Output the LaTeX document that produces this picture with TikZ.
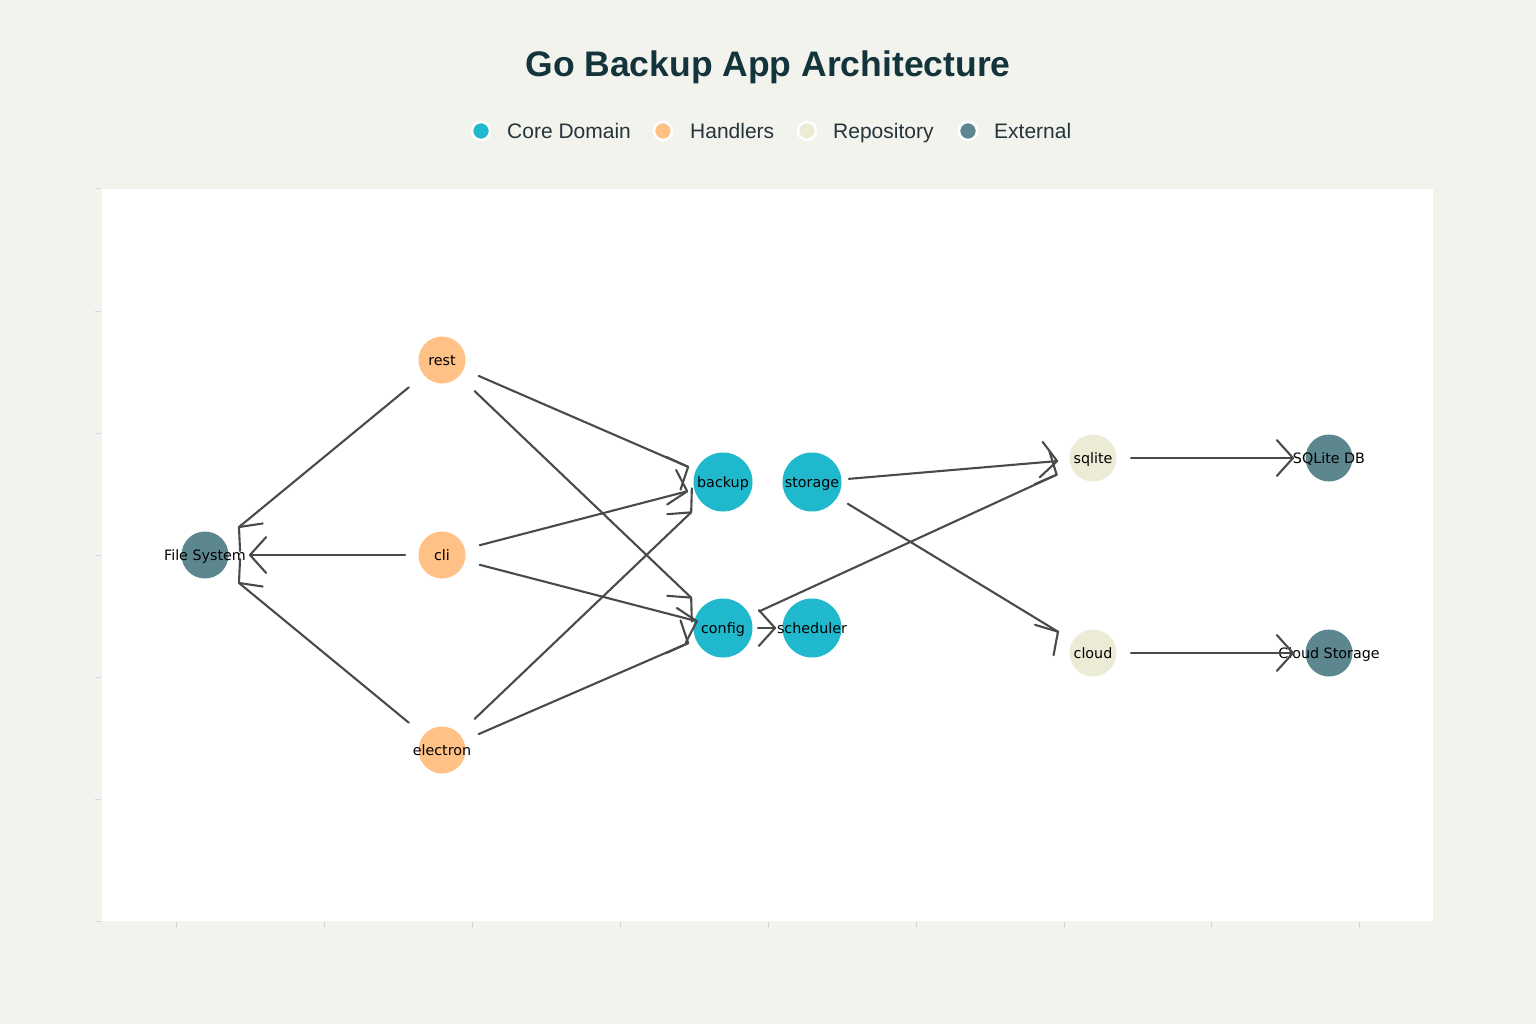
\documentclass[tikz,border=0pt]{standalone}
\usepackage{fontspec}
\setmainfont{Liberation Sans}
\newfontfamily\lblfont{DejaVu Sans}
\usetikzlibrary{calc}
\definecolor{bg}{HTML}{F3F3EE}
\definecolor{core}{HTML}{1FB8CD}
\definecolor{handler}{HTML}{FFC185}
\definecolor{repo}{HTML}{ECEBD5}
\definecolor{ext}{HTML}{5D878F}
\definecolor{edgec}{HTML}{4A4A4A}
\definecolor{titlec}{HTML}{13343B}
\definecolor{legc}{HTML}{24343A}
\definecolor{tickc}{HTML}{D6D6D6}
\newcommand\arrowconn[4]{%
  \path ($(#1)!#3!(#2)$) coordinate (cS) ($(#2)!#4!(#1)$) coordinate (cT);
  \path let \p1=(cS), \p2=(cT) in coordinate (cM) at (\x1,{2*(\y2)-(\y1)});
  \draw[edgeline] (cS) -- (cT);
  \draw[edgeline] ($(cT)!24pt!48:(cM)$) -- (cT) -- ($(cT)!24pt!-48:(cM)$);
}
\begin{document}
\begin{tikzpicture}[x=1pt,y=-1pt,
  nd/.style={circle, inner sep=0pt, minimum size=#1},
  lbl/.style={font=\lblfont\fontsize{14.3}{17}\selectfont, text=black, inner sep=0pt, text height=10pt, text depth=0pt},
  edgeline/.style={draw=edgec, line width=2.1pt, line cap=round, line join=round},
  legdot/.style={circle, inner sep=0pt, minimum size=18pt, draw=white, line width=2.5pt},
  legtext/.style={font=\fontsize{21}{25}\selectfont, text=legc, inner sep=0pt, anchor=base west},
  tick/.style={draw=tickc, line width=1pt}]
\useasboundingbox (0,0) rectangle (1536,1024);
\fill[bg] (0,0) rectangle (1536,1024);
\fill[white] (102,189) rectangle (1433,921);
\foreach \ty in {189,311,433,555,677,799,921} \draw[tick] (95,\ty) -- (101,\ty);
\foreach \tx in {176,324,472,620,768,916,1064,1211,1359} \draw[tick] (\tx,922) -- (\tx,928);
% title
\node[font=\bfseries\fontsize{35.5}{42}\selectfont, text=titlec, anchor=base, inner sep=0pt] (title) at (768,77) {Go Backup App Architecture};
% legend
\node[legdot, fill=core] (lg1) at (481,131) {};
\node[legtext] (lt1) at (507,138.5) {Core Domain};
\node[legdot, fill=handler] (lg2) at (663,131) {};
\node[legtext] (lt2) at (690,138.5) {Handlers};
\node[legdot, fill=repo] (lg3) at (807,131) {};
\node[legtext] (lt3) at (833,138.5) {Repository};
\node[legdot, fill=ext] (lg4) at (968,131) {};
\node[legtext] (lt4) at (994,138.5) {External};
% nodes
\node[nd=47pt, fill=ext, label={[lbl]center:File System}] (fs) at (205,555) {};
\node[nd=47pt, fill=handler, label={[lbl]center:rest}] (rest) at (442,360) {};
\node[nd=47pt, fill=handler, label={[lbl]center:cli}] (cli) at (442,555) {};
\node[nd=47pt, fill=handler, label={[lbl]center:electron}] (electron) at (442,750) {};
\node[nd=59pt, fill=core, label={[lbl]center:backup}] (backup) at (723,482) {};
\node[nd=59pt, fill=core, label={[lbl]center:storage}] (storage) at (812,482) {};
\node[nd=59pt, fill=core, label={[lbl]center:config}] (config) at (723,628) {};
\node[nd=59pt, fill=core, label={[lbl]center:scheduler}] (scheduler) at (812,628) {};
\node[nd=47pt, fill=repo, label={[lbl]center:sqlite}] (sqlite) at (1093,458) {};
\node[nd=47pt, fill=repo, label={[lbl]center:cloud}] (cloud) at (1093,653) {};
\node[nd=47pt, fill=ext, label={[lbl]center:SQLite DB}] (sqlitedb) at (1329,458) {};
\node[nd=47pt, fill=ext, label={[lbl]center:Cloud Storage}] (cloudst) at (1329,653) {};
% connectors
\arrowconn{rest}{fs}{43pt}{44pt}
\arrowconn{cli}{fs}{37pt}{45pt}
\arrowconn{electron}{fs}{43pt}{44pt}
\arrowconn{rest}{backup}{40pt}{38pt}
\arrowconn{rest}{config}{45pt}{44pt}
\arrowconn{cli}{backup}{39pt}{37pt}
\arrowconn{cli}{config}{39pt}{27pt}
\arrowconn{electron}{backup}{45pt}{44pt}
\arrowconn{electron}{config}{40pt}{38pt}
\arrowconn{storage}{sqlite}{37pt}{36pt}
\arrowconn{config}{sqlite}{40pt}{40pt}
\arrowconn{config}{scheduler}{35pt}{37pt}
\arrowconn{storage}{cloud}{42pt}{41pt}
\arrowconn{sqlite}{sqlitedb}{38pt}{36pt}
\arrowconn{cloud}{cloudst}{38pt}{36pt}
\end{tikzpicture}
\end{document}
